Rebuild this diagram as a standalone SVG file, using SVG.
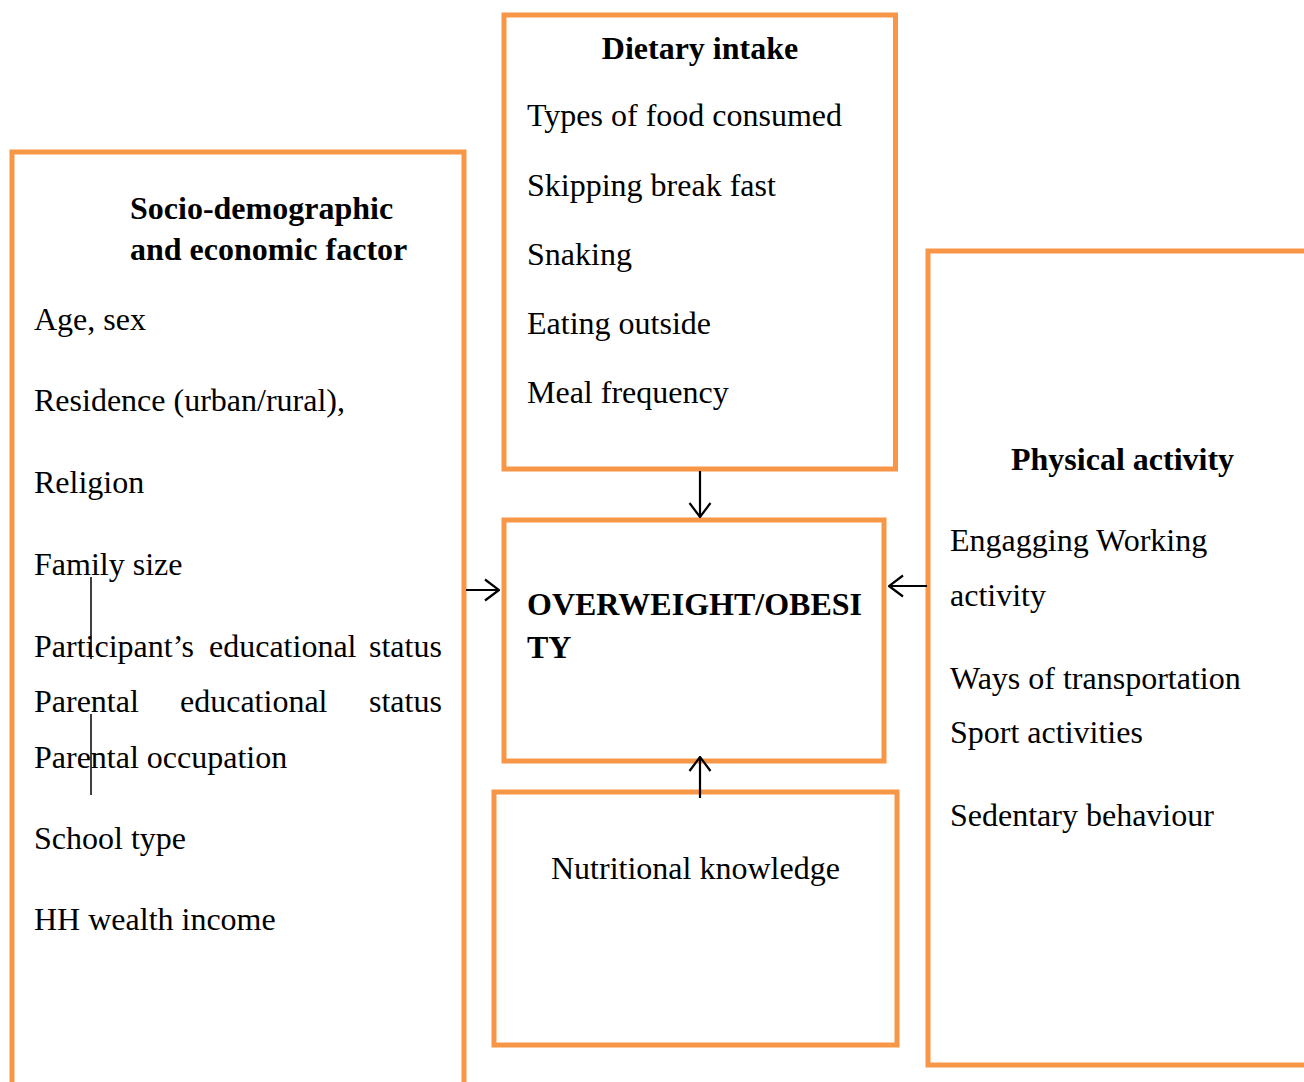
<svg xmlns="http://www.w3.org/2000/svg" width="1304" height="1082" viewBox="0 0 1304 1082">
<style>
.box{fill:none;stroke:#F79646;stroke-width:5}
.t{font-family:"Liberation Serif","Times New Roman",serif;font-size:32px;fill:#000}
.b{font-weight:bold}
.c{stroke:#000;stroke-width:2.2;fill:none}
.v{stroke:#000;stroke-width:1.5}
</style>
<defs>
<marker id="ah" viewBox="0 0 16 24" markerWidth="16" markerHeight="24" refX="15" refY="12" orient="auto" markerUnits="userSpaceOnUse">
<path d="M1,1.5 L15,12 L1,22.5" fill="none" stroke="#000" stroke-width="2.2"/>
</marker>
</defs>
<rect width="1304" height="1082" fill="#fff"/>
<g id="socio">
<path class="box" d="M12,1090 V152 H464 V1090"/>
<text class="t b" x="130" y="219">Socio-demographic</text>
<text class="t b" x="130" y="260">and economic factor</text>
<text class="t" x="34" y="330">Age, sex</text>
<text class="t" x="34" y="411">Residence (urban/rural),</text>
<text class="t" x="34" y="493">Religion</text>
<text class="t" x="34" y="575">Family size</text>
<text class="t" x="34" y="657">Participant’s</text>
<text class="t" x="209" y="657">educational</text>
<text class="t" x="369" y="657">status</text>
<text class="t" x="34" y="712">Parental</text>
<text class="t" x="180" y="712">educational</text>
<text class="t" x="369" y="712">status</text>
<text class="t" x="34" y="768">Parental occupation</text>
<text class="t" x="34" y="849">School type</text>
<text class="t" x="34" y="930">HH wealth income</text>
<line class="v" x1="91" y1="577" x2="91" y2="659"/>
<line class="v" x1="91" y1="714" x2="91" y2="795"/>
</g>
<g id="dietary">
<rect class="box" x="504" y="15" width="391.5" height="454"/>
<text class="t b" x="700" y="59" text-anchor="middle">Dietary intake</text>
<text class="t" x="527" y="126">Types of food consumed</text>
<text class="t" x="527" y="196">Skipping break fast</text>
<text class="t" x="527" y="265">Snaking</text>
<text class="t" x="527" y="334">Eating outside</text>
<text class="t" x="527" y="403">Meal frequency</text>
</g>
<g id="outcome">
<rect class="box" x="504" y="520" width="380" height="241"/>
<text class="t b" x="527" y="615">OVERWEIGHT/OBESI</text>
<text class="t b" x="527" y="658">TY</text>
</g>
<g id="knowledge">
<rect class="box" x="494" y="792" width="403" height="253"/>
<text class="t" x="551" y="879">Nutritional knowledge</text>
</g>
<g id="physical">
<path class="box" d="M1310,251 H928 V1065 H1310"/>
<text class="t b" x="1011" y="470">Physical activity</text>
<text class="t" x="950" y="551">Engagging Working</text>
<text class="t" x="950" y="606">activity</text>
<text class="t" x="950" y="689">Ways of transportation</text>
<text class="t" x="950" y="743">Sport activities</text>
<text class="t" x="950" y="826">Sedentary behaviour</text>
</g>
<g id="connectors">
<line class="c" x1="700" y1="471" x2="700" y2="517" marker-end="url(#ah)"/>
<line class="c" x1="466" y1="590" x2="499" y2="590" marker-end="url(#ah)"/>
<line class="c" x1="927" y1="586" x2="889" y2="586" marker-end="url(#ah)"/>
<line class="c" x1="700" y1="798" x2="700" y2="757" marker-end="url(#ah)"/>
</g>
</svg>
